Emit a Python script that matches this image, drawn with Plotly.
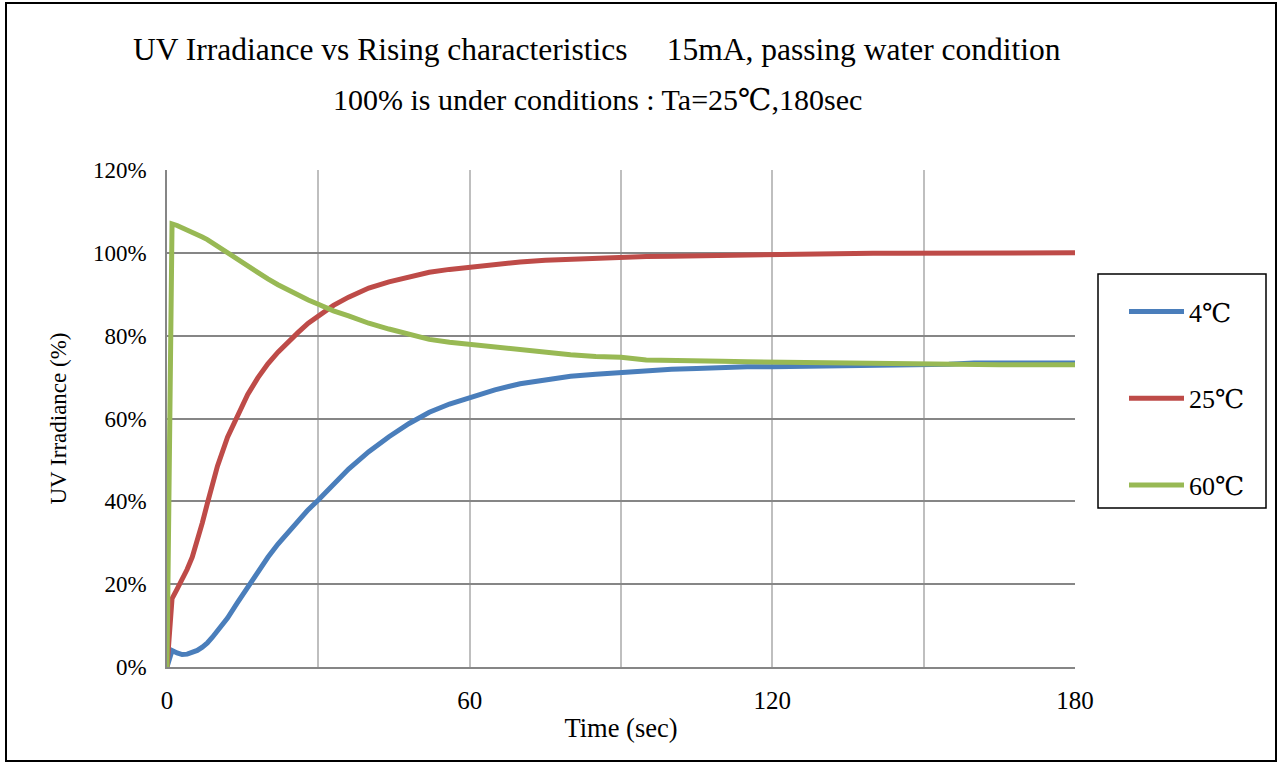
import plotly.graph_objects as go

# ---- data ----
time_sec = [0, 1, 2, 3, 4, 5, 6, 7, 8, 9, 10, 12, 14, 16, 18, 20, 22, 24, 26, 28, 30,
            33, 36, 40, 44, 48, 52, 56, 60, 65, 70, 75, 80, 85, 90, 95, 100, 105, 110,
            115, 120, 125, 130, 135, 140, 145, 150, 155, 160, 165, 170, 175, 180]

uv_4c = [0, 4.0, 3.4, 3.0, 3.1, 3.4, 4.0, 4.8, 5.8, 7.2, 8.6, 11.8, 15.6, 19.4, 23.0, 26.5,
         29.7, 32.6, 35.4, 38.0, 40.3, 44.0, 47.8, 52.0, 55.6, 58.8, 61.5, 63.5, 65.0, 66.9,
         68.4, 69.4, 70.2, 70.7, 71.2, 71.6, 71.9, 72.1, 72.4, 72.5, 72.5, 72.6, 72.6, 72.6,
         72.6, 72.7, 72.8, 73.1, 73.4, 73.4, 73.4, 73.4, 73.4]

uv_25c = [0, 16.5, 18.8, 21.0, 23.6, 26.5, 30.3, 34.8, 39.5, 44.3, 48.5, 55.5, 61.0, 65.8,
          69.8, 73.2, 76.0, 78.5, 80.8, 83.0, 84.8, 87.3, 89.3, 91.5, 93.0, 94.3, 95.3, 96.0,
          96.6, 97.3, 97.8, 98.2, 98.5, 98.7, 98.9, 99.1, 99.2, 99.3, 99.4, 99.5, 99.6, 99.8,
          99.8, 99.8, 99.9, 99.9, 99.9, 100.2, 100.0, 100.0, 100.0, 100.0, 100.0]

uv_60c = [0, 107.0, 106.6, 106.1, 105.5, 105.0, 104.4, 103.8, 103.2, 102.4, 101.6, 100.0,
          98.3, 96.6, 95.2, 93.7, 92.3, 91.0, 89.9, 88.6, 87.6, 86.0, 84.8, 83.0, 81.6, 80.3,
          79.1, 78.4, 77.9, 77.1, 76.4, 75.9, 75.4, 75.0, 74.8, 74.1, 74.1, 74.0, 73.8, 73.7,
          73.6, 73.6, 73.4, 73.4, 73.3, 73.3, 73.3, 73.2, 73.0, 73.0, 73.0, 73.0, 73.0]

series_names = ["4℃", "25℃", "60℃"]
series_colors = ["#4A7EBB", "#BE4B48", "#98B954"]

x_tickvals = [0, 30, 60, 90, 120, 150, 180]
x_ticktext = ["0", "", "60", "", "120", "", "180"]
y_tickvals = [0, 20, 40, 60, 80, 100, 120]
y_ticktext = ["0%", "20%", "40%", "60%", "80%", "100%", "120%"]

title_line1 = "UV Irradiance vs Rising characteristics\u00a0\u00a0\u00a0\u00a0 15mA, passing water condition"
title_line2 = "100% is under conditions : Ta=25℃,180sec"
x_title = "Time (sec)"
y_title = "UV Irradiance (%)"

# ---- layout geometry (pixels) ----
W, H = 1280, 764
L, R, T, B = 167, 1075, 170, 667
pw, ph = R - L, B - T

def px_x(p):
    return (p - L) / pw

def px_y(p):
    return (B - p) / ph

FONT = "Times New Roman, Liberation Serif, DejaVu Serif, serif"

fig = go.Figure()
for i, (name, vals) in enumerate(zip(series_names, [uv_4c, uv_25c, uv_60c])):
    fig.add_trace(go.Scatter(
        x=time_sec, y=vals, mode="lines", name=name,
        line=dict(color=series_colors[i], width=5),
        legendgroup=f"g{i}",
    ))

fig.update_layout(
    width=W, height=H,
    margin=dict(l=L, r=W - R, t=T, b=H - B, pad=0),
    paper_bgcolor="white", plot_bgcolor="white",
    font=dict(family=FONT, size=22, color="black"),
    showlegend=True,
    legend=dict(
        x=px_x(1124), y=px_y(288), xanchor="left", yanchor="top",
        borderwidth=0, bgcolor="rgba(0,0,0,0)",
        font=dict(family=FONT, size=26, color="black"),
        tracegroupgap=50, itemwidth=55,
    ),
    xaxis=dict(
        range=[0, 180], tickvals=x_tickvals, ticktext=x_ticktext,
        showgrid=True, gridcolor="#BFBFBF", gridwidth=1.5,
        showline=True, linecolor="#868686", linewidth=1.5,
        zeroline=False, ticks="", ticklabelstandoff=10,
        title=dict(text=x_title, standoff=6, font=dict(size=26.5)),
        tickfont=dict(size=25),
    ),
    yaxis=dict(
        range=[0, 120], tickvals=y_tickvals, ticktext=y_ticktext,
        showgrid=True, gridcolor="#868686", gridwidth=1.5,
        showline=True, linecolor="#868686", linewidth=1.5,
        zeroline=False, ticks="", ticklabelstandoff=14,
        title=dict(text=y_title, standoff=20, font=dict(size=23)),
        tickfont=dict(size=23),
    ),
    annotations=[
        dict(text=title_line1, xref="paper", yref="paper", x=px_x(597), y=px_y(50),
             xanchor="center", yanchor="middle", showarrow=False,
             font=dict(family=FONT, size=31.5, color="black")),
        dict(text=title_line2, xref="paper", yref="paper", x=px_x(597), y=px_y(100),
             xanchor="center", yanchor="middle", showarrow=False,
             font=dict(family=FONT, size=30, color="black")),
    ],
    shapes=[
        dict(type="rect", xref="paper", yref="paper",
             x0=px_x(6), x1=px_x(1276), y0=px_y(761), y1=px_y(3),
             line=dict(color="black", width=2), fillcolor="rgba(0,0,0,0)", layer="below"),
        dict(type="rect", xref="paper", yref="paper",
             x0=px_x(1098), x1=px_x(1266), y0=px_y(508), y1=px_y(274),
             line=dict(color="black", width=1.5), fillcolor="white", layer="below"),
    ],
)

fig.write_html("out.html", config={"displayModeBar": False},
               post_script="document.body.style.margin='0px';")
